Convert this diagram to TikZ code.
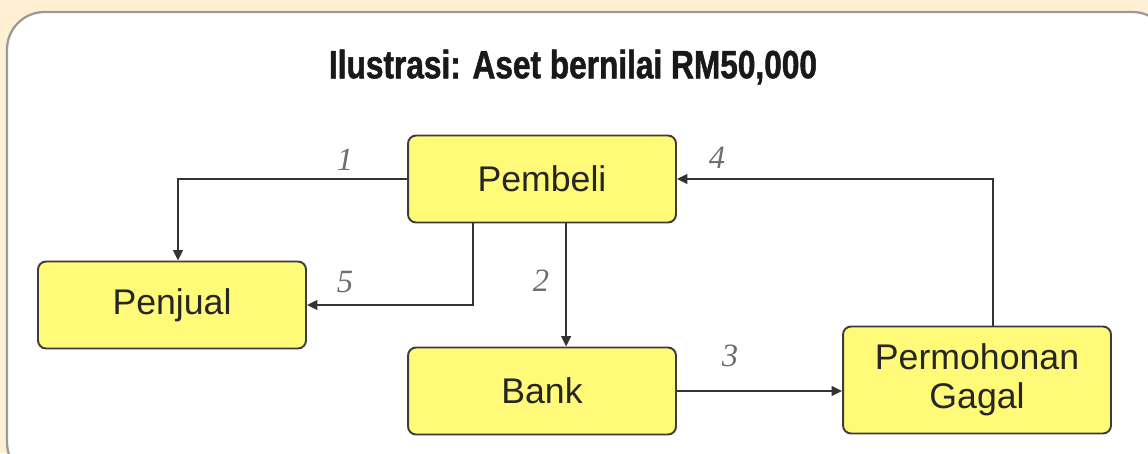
\documentclass[tikz,border=0pt]{standalone}
\usepackage{fontspec}
\usepackage{graphicx}
\setmainfont{Liberation Sans}
\newfontfamily\titlefont{Liberation Sans}[FakeStretch=0.8, BoldFeatures={FakeBold=1.2}]
\newfontfamily\stepfont{Liberation Serif}
\usetikzlibrary{arrows.meta,positioning}
\definecolor{paper}{HTML}{FFF0D4}
\definecolor{frame}{HTML}{9A9A9A}
\definecolor{boxfill}{HTML}{FFFA78}
\definecolor{boxline}{HTML}{3C3C3C}
\definecolor{arrowline}{HTML}{333333}
\definecolor{steplabel}{HTML}{6E6E6E}

\begin{document}
\begin{tikzpicture}[x=0.02cm, y=-0.02cm,
  party/.style={draw=boxline, line width=1.1pt, fill=boxfill, rounded corners=0.16cm,
    minimum width=5.36cm, minimum height=1.74cm, align=center,
    font=\fontsize{20.3}{22.5}\selectfont, text=black!85},
  flow/.style={-{Triangle[length=6pt, width=5.5pt]}, draw=arrowline, line width=1.3pt},
  stepno/.style={font=\stepfont\itshape\fontsize{18.5}{20}\selectfont, text=steplabel}]
  % Background and frame
  \useasboundingbox (0,0) rectangle (1148,453);
  \fill[paper] (0,0) rectangle (1148,453);
  \clip (0,0) rectangle (1148,453);
  \filldraw[fill=white, draw=frame, line width=1.3pt, rounded corners=0.75cm] (7,12) rectangle (1170,480);

  % Title
  \node[font=\titlefont\bfseries\fontsize{22.5}{26}\selectfont, text=black!90] (title) at (573,67)
    {Ilustrasi: Aset bernilai RM50,000};

  % Parties
  \node[party] (pembeli) at (542,179) {Pembeli};
  \node[party] (penjual) at (172,305) {Penjual};
  \node[party] (bank) at (542,391) {Bank};
  \node[party, minimum height=2.14cm] (gagal) at (977,380) {Permohonan\\Gagal};

  % Flows
  \draw[flow] (pembeli.west) -| ([xshift=3.4pt]penjual.north);
  \draw[flow] ([xshift=13.7pt]pembeli.south) -- ([xshift=13.7pt]bank.north);
  \draw[flow] (bank.east) -- (bank.east -| gagal.west);
  \draw[flow] ([xshift=9.1pt]gagal.north) |- (pembeli.east);
  \draw[flow] ([xshift=-39.3pt]pembeli.south) |- (penjual.east);

  % Step numbers
  \node[stepno] (n1) at (345,160) {1};
  \node[stepno] (n2) at (541,281) {2};
  \node[stepno] (n3) at (730,356) {3};
  \node[stepno] (n4) at (717,158) {4};
  \node[stepno] (n5) at (345,282) {5};
\end{tikzpicture}
\end{document}
